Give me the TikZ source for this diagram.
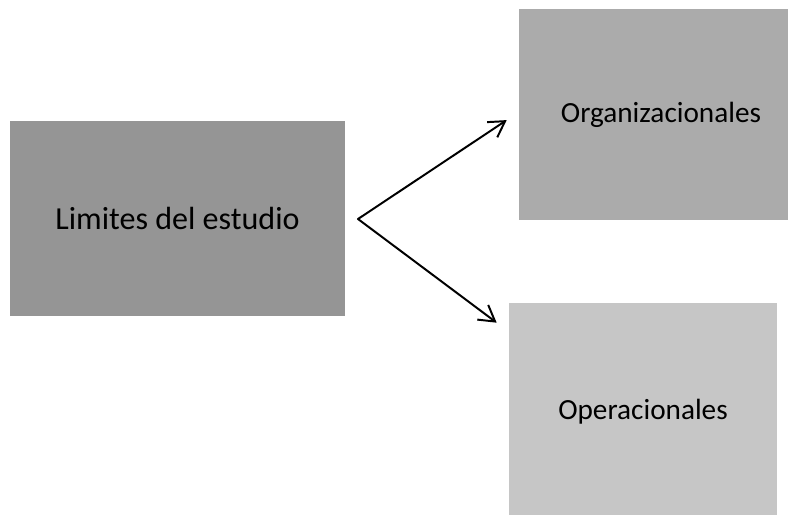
\documentclass[tikz,border=0pt]{standalone}
\usepackage{fontspec}
\setmainfont{Carlito}
\usetikzlibrary{arrows.meta,positioning}
\definecolor{grisoscuro}{HTML}{959595}
\definecolor{grismedio}{HTML}{ABABAB}
\definecolor{grisclaro}{HTML}{C6C6C6}

\begin{document}
\begin{tikzpicture}[x=0.025cm,y=-0.025cm,
  caja/.style={rectangle,inner sep=0pt,font=\fontsize{20.8}{24}\selectfont,
               text centered},
  arr/.style={-{Straight Barb[length=11pt,width=13pt]},line width=1.4pt}
]
  \useasboundingbox (0,0) rectangle (788,514);

  % ---- Boxes ------------------------------------------------
  % Left: main topic
  \node[caja,fill=grisoscuro,minimum width=8.375cm,minimum height=4.875cm,
        font=\fontsize{22.8}{26}\selectfont]
    (limites) at (177.5,218.5) {Limites del estudio};

  % Top-right
  \node[caja,fill=grismedio,minimum width=7.1cm,minimum height=5.275cm]
    (org) at (661,114.5) {Organizacionales};

  % Bottom-right
  \node[caja,fill=grisclaro,minimum width=6.7cm,minimum height=5.45cm]
    (oper) at (643,412) {Operacionales};

  % ---- Arrows -----------------------------------------------
  \coordinate (split) at (358,219);
  \draw[arr,line cap=round] (split) -- ([xshift=-0.3cm,yshift=-0.14cm]org.west);
  \draw[arr,line cap=round] (split) -- ([xshift=-0.3cm,yshift=-0.5cm]oper.north west);

\end{tikzpicture}
\end{document}
